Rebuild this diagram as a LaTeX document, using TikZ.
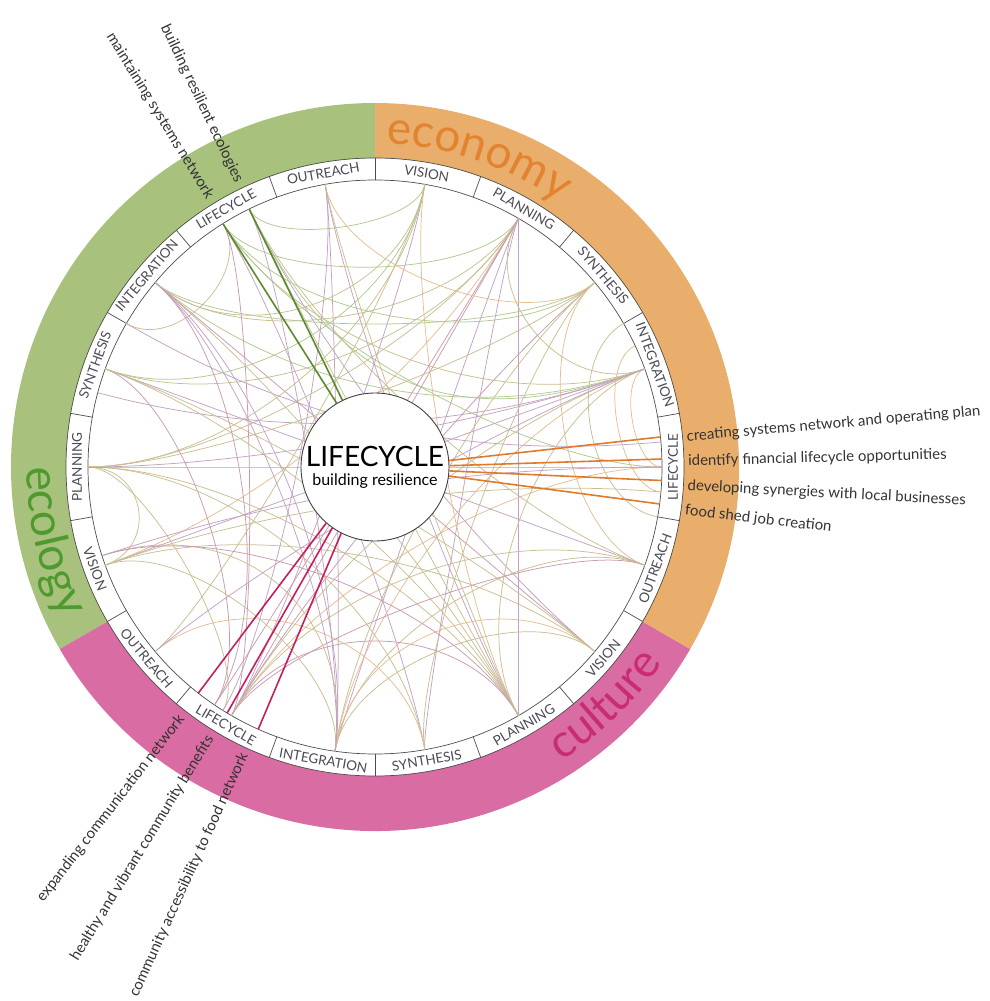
\documentclass[tikz,border=0pt]{standalone}
\usepackage{fontspec}
\setmainfont{Lato}
\usetikzlibrary{decorations.text}
\def\rin{287pt}
\def\rlab{309pt}
\def\rout{364pt}
\definecolor{ecogreen}{HTML}{A8C27E}
\definecolor{econorange}{HTML}{E9AE6B}
\definecolor{culpink}{HTML}{D96DA3}
\definecolor{ecotxt}{HTML}{4F9A2E}
\definecolor{econtxt}{HTML}{E2832F}
\definecolor{cultxt}{HTML}{C92C75}
\definecolor{ecoline}{HTML}{5A8A2E}
\definecolor{econline}{HTML}{E07A2A}
\definecolor{culline}{HTML}{C41E5E}
\definecolor{seggray}{HTML}{4A4A58}
\definecolor{chordolive}{HTML}{C9BE92}
\definecolor{chordmauve}{HTML}{C3A1C2}
\definecolor{chordsage}{HTML}{B0C98F}
\definecolor{chordpeach}{HTML}{E5BD93}
\definecolor{chordrose}{HTML}{C99AAE}

\begin{document}
\begin{tikzpicture}[x=1pt, y=1pt,
    chord/.style={line width=0.75pt},
    ringline/.style={draw=black!70, line width=0.7pt},
    segtext/.style={font=\fontsize{13.5}{13.5}\selectfont, text=seggray, inner sep=0pt},
    outtext/.style={font=\fontsize{15}{15}\selectfont, text=black!80, inner sep=0pt},
    boldline/.style={line width=1.6pt}]

\useasboundingbox (-375,-534) rectangle (614,467);

% coloured ring
\fill[ecogreen] (90:\rout) arc[start angle=90, end angle=210, radius=\rout] -- (210:\rlab) arc[start angle=210, end angle=90, radius=\rlab] -- cycle;
\fill[culpink] (210:\rout) arc[start angle=210, end angle=330, radius=\rout] -- (330:\rlab) arc[start angle=330, end angle=210, radius=\rlab] -- cycle;
\fill[econorange] (-30:\rout) arc[start angle=-30, end angle=90, radius=\rout] -- (90:\rlab) arc[start angle=90, end angle=-30, radius=\rlab] -- cycle;

\path[decorate, decoration={text along path, text align=center, text color=econtxt,
    text={|\fontsize{46}{46}\selectfont|economy}}] (95:323pt) arc[start angle=95, end angle=48, radius=323pt];
\path[decorate, decoration={text along path, text align=center, text color=ecotxt,
    text={|\fontsize{46}{46}\selectfont|ecology}}] (170:348pt) arc[start angle=170, end angle=216, radius=348pt];
\path[decorate, decoration={text along path, text align=center, text color=cultxt,
    text={|\fontsize{46}{46}\selectfont|culture}}] (296:348pt) arc[start angle=296, end angle=332, radius=348pt];

% label ring
\draw[ringline] (0,0) circle[radius=\rin];
\draw[ringline] (0,0) circle[radius=\rlab];
\foreach \s in {10,30,...,350}
    \draw[ringline] (\s:\rin) -- (\s:\rlab);

\foreach \a/\lab/\r in {80/VISION/-10, 60/PLANNING/-30, 40/SYNTHESIS/-50, 20/INTEGRATION/-70, 0/LIFECYCLE/90, 340/OUTREACH/70,
    320/VISION/50, 300/PLANNING/30, 280/SYNTHESIS/10, 260/INTEGRATION/-10, 240/LIFECYCLE/-30, 220/OUTREACH/-50,
    200/VISION/-70, 180/PLANNING/90, 160/SYNTHESIS/70, 140/INTEGRATION/50, 120/LIFECYCLE/30, 100/OUTREACH/10}
    \node[segtext, rotate=\r] (seg-\a) at (\a:298pt) {\lab};

% links between the stages
\foreach \a/\b/\k/\c in {
    122/60/0.75/chordsage, 122/40/0.6/chordsage, 122/20/0.5/chordolive, 122/0/0.55/chordsage,
    116/-20/0.5/chordolive, 116/320/0.45/chordmauve, 116/300/0.5/chordolive, 122/280/0.6/chordmauve,
    116/80/0.85/chordsage, 122/150/0.8/chordolive, 116/262/0.7/chordmauve, 122/240/0.8/chordrose,
    116/20/0.3/chordsage,
    60/140/0.6/chordolive, 60/160/0.5/chordolive, 60/180/0.55/chordolive, 60/262/0.9/chordmauve,
    60/280/0.9/chordmauve, 60/300/1.0/chordmauve, 60/240/0.6/chordrose, 60/20/0.7/chordolive,
    60/200/0.4/chordpeach,
    20/180/0.45/chordmauve, 20/165/0.35/chordmauve, 20/200/0.5/chordmauve, 20/240/0.4/chordolive,
    20/262/0.5/chordpeach, 20/140/0.4/chordsage, 20/0/0.9/chordpeach, 30/-10/0.75/chordolive,
    25/-5/0.85/chordpeach,
    40/180/0.6/chordolive, 40/240/0.5/chordrose, 40/140/0.7/chordsage, 40/280/0.7/chordolive,
    5/150/0.3/chordmauve, -5/200/0.4/chordolive, 0/240/0.5/chordpeach,
    -20/160/0.4/chordmauve, -20/262/0.6/chordolive, -20/40/0.7/chordpeach, -20/240/0.7/chordrose,
    300/140/0.4/chordolive, 300/160/0.45/chordolive, 300/80/0.6/chordpeach, 300/240/0.6/chordrose,
    300/20/0.6/chordolive, 300/180/0.5/chordolive, 300/100/0.55/chordmauve,
    320/200/0.5/chordolive, 320/140/0.5/chordrose, 320/262/0.7/chordolive,
    236/140/0.6/chordrose, 236/160/0.7/chordrose, 238/180/0.8/chordolive, 240/80/0.6/chordmauve,
    238/100/0.65/chordmauve, 236/60/0.7/chordrose, 240/-20/0.5/chordolive,
    262/200/0.7/chordolive, 262/100/0.8/chordmauve, 262/140/0.6/chordmauve, 262/40/0.5/chordolive,
    262/320/0.6/chordpeach, 280/180/0.5/chordolive, 280/220/0.6/chordpeach,
    220/80/0.7/chordolive, 220/20/0.5/chordmauve,
    180/200/0.8/chordolive, 180/80/0.5/chordolive, 180/0/0.35/chordrose,
    198/262/0.5/chordolive, 198/300/0.55/chordrose, 198/0/0.3/chordmauve,
    140/80/0.6/chordolive, 140/262/0.5/chordmauve, 160/80/0.55/chordsage, 160/320/0.45/chordolive,
    100/40/0.7/chordpeach, 100/300/0.7/chordolive}
    \draw[chord, \c] (\a:\rin) .. controls ({\a}:{\k*287}) and ({\b}:{\k*287}) .. (\b:\rin);

\node[circle, draw=black!75, line width=0.9pt, fill=white, minimum size=148pt, inner sep=0pt, align=center,
    font=\fontsize{16}{19}\selectfont] (life) at (0,0)
    {{\fontsize{28}{30}\selectfont LIFECYCLE}\\building resilience};

% ecology
\coordinate (eco-a) at (122:\rin);
\coordinate (eco-b) at (116:\rin);
\draw[boldline, ecoline] (life.121) -- (eco-a);
\draw[boldline, ecoline] (life.116) -- (eco-b);
\node[outtext, anchor=east, rotate=-58.5] (eco-txt-a) at (121.5:316pt) {maintaining systems network};
\node[outtext, anchor=east, rotate=-64.5] (eco-txt-b) at (115.5:316pt) {building resilient ecologies};

% economy
\coordinate (econ-a) at (6:\rin);
\coordinate (econ-b) at (1.6:\rin);
\coordinate (econ-c) at (-2.7:\rin);
\coordinate (econ-d) at (-7.4:\rin);
\draw[boldline, econline] (life.5) -- (econ-a);
\draw[boldline, econline] (life.1.5) -- (econ-b);
\draw[boldline, econline] (life.-3) -- (econ-c);
\draw[boldline, econline] (life.-7.5) -- (econ-d);
\node[outtext, anchor=west, rotate=5] (econ-txt-a) at (5.5:313pt) {creating systems network and operating plan};
\node[outtext, anchor=west, rotate=1.5] (econ-txt-b) at (1:313pt) {identify financial lifecycle opportunities};
\node[outtext, anchor=west, rotate=-3] (econ-txt-c) at (-3.5:313pt) {developing synergies with local businesses};
\node[outtext, anchor=west, rotate=-6.7] (econ-txt-d) at (-8:313pt) {food shed job creation};

% culture
\coordinate (cul-a) at (232:\rin);
\coordinate (cul-b) at (239:\rin);
\coordinate (cul-c) at (246:\rin);
\draw[boldline, culline] (life.229) -- (cul-a);
\draw[boldline, culline] (life.235) -- (cul-b);
\draw[boldline, culline] (life.243) -- (cul-c);
\node[outtext, anchor=east, rotate=52.3] (cul-txt-a) at (232.3:316pt) {expanding communication network};
\node[outtext, anchor=east, rotate=58.6] (cul-txt-b) at (238.6:316pt) {healthy and vibrant community benefits};
\node[outtext, anchor=east, rotate=65.5] (cul-txt-c) at (245.5:315pt) {community accessibility to food network};
\end{tikzpicture}
\end{document}
